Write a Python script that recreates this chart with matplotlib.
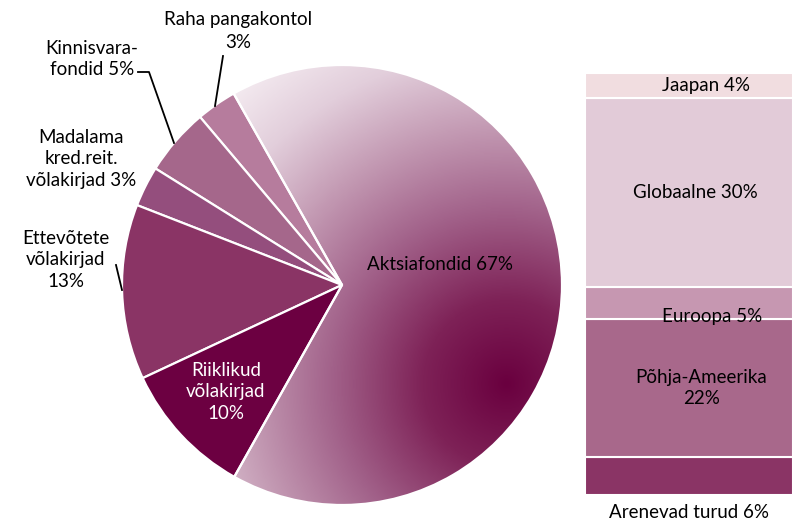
import numpy as np
import matplotlib
matplotlib.use("Agg")
import matplotlib.pyplot as plt
from matplotlib.colors import LinearSegmentedColormap

plt.rcParams['font.family'] = ['Lato', 'DejaVu Sans']

# Pie: asset classes (counter-clockwise from the top-left)
pie_labels = ["Raha pangakontol", "Kinnisvarafondid", "Madalama kred.reit. võlakirjad",
              "Ettevõtete võlakirjad", "Riiklikud võlakirjad", "Aktsiafondid"]
pie_values = [3, 5, 3, 13, 10, 67]
pie_colors = ["#b67c9d", "#a5678b", "#944e7d", "#8a3465", "#6c0041", "none"]

# Stacked bar: equity split by region (bottom to top)
bar_labels = ["Arenevad turud", "Põhja-Ameerika", "Euroopa", "Globaalne", "Jaapan"]
bar_values = [6, 22, 5, 30, 4]
bar_colors = ["#8a3465", "#a8688b", "#c697b1", "#e2cbd8", "#f1dde0"]

W, H = 794, 520
fig = plt.figure(figsize=(W / 100, H / 100), dpi=100)

# pie axes: circle centre (342, 285) px, radius 220 px
cx, cy, r = 342, 285, 220
ax = fig.add_axes([(cx - r) / W, (H - cy - r) / H, 2 * r / W, 2 * r / H])
wedges, _ = ax.pie(pie_values, colors=pie_colors, startangle=119.5, counterclock=True,
                   radius=1, wedgeprops=dict(edgecolor="white", linewidth=1.6))
ax.set_xlim(-1, 1)
ax.set_ylim(-1, 1)
ax.axis("off")

# gradient fill of the equity slice
cmap = LinearSegmentedColormap.from_list("akts", [
    (0.0, "#6a003f"), (0.2, "#7e2257"), (0.42, "#a2628a"),
    (0.62, "#c49bb4"), (0.8, "#e2cedb"), (1.0, "#f8f1f5")])
gx, gy = np.meshgrid(np.linspace(-1, 1, 400), np.linspace(-1, 1, 400))
t = np.clip(np.hypot(gx - 0.75, gy + 0.45) / 1.9, 0, 1)
im = ax.imshow(t, cmap=cmap, extent=(-1, 1, -1, 1), origin="lower", vmin=0, vmax=1,
               interpolation="bilinear", zorder=0)
im.set_clip_path(wedges[-1])
wedges[-1].set_zorder(2)

# overlay axes in pixel coordinates for labels and leader lines
ov = fig.add_axes([0, 0, 1, 1])
ov.set_xlim(0, W)
ov.set_ylim(H, 0)
ov.axis("off")
ov.patch.set_alpha(0)

fs = 13.5
ls = 1.3
ov.text(238, 31, "Raha pangakontol\n3%", ha="center", va="center", fontsize=fs, linespacing=1.4)
ov.plot([223, 215], [56, 106], color="black", lw=1.3)
ov.text(92, 59, "Kinnisvara-\nfondid 5%", ha="center", va="center", fontsize=fs, linespacing=ls)
ov.plot([138, 149, 174], [72, 72, 143], color="black", lw=1.3)
ov.text(81, 159, "Madalama\nkred.reit.\nvõlakirjad 3%", ha="center", va="center", fontsize=fs,
        linespacing=ls)
ov.text(66, 260, "Ettevõtete\nvõlakirjad\n13%", ha="center", va="center", fontsize=fs,
        linespacing=ls)
ov.plot([116, 122], [265, 290], color="black", lw=1.3)
ov.text(226, 392, "Riiklikud\nvõlakirjad\n10%", ha="center", va="center", fontsize=fs,
        color="white", linespacing=ls)
ov.text(440, 265, "Aktsiafondid 67%", ha="center", va="center", fontsize=fs)

# stacked bar axes
bx0, bx1, by0, by1 = 585, 793, 73, 495
bax = fig.add_axes([bx0 / W, (H - by1) / H, (bx1 - bx0) / W, (by1 - by0) / H])
bottoms = np.concatenate([[0], np.cumsum(bar_values)[:-1]])
bax.bar([0] * len(bar_values), bar_values, bottom=bottoms, width=1, color=bar_colors,
        edgecolor="white", linewidth=1.5)
bax.set_xlim(-0.5, 0.5)
bax.set_ylim(0, sum(bar_values))
bax.axis("off")

bax.text(0.08, bottoms[4] + bar_values[4] / 2, f"{bar_labels[4]} {bar_values[4]}%",
         ha="center", va="center", fontsize=fs)
bax.text(0.03, bottoms[3] + bar_values[3] / 2, f"{bar_labels[3]} {bar_values[3]}%",
         ha="center", va="center", fontsize=fs)
bax.text(0.11, bottoms[2] + 0.4, f"{bar_labels[2]} {bar_values[2]}%",
         ha="center", va="center", fontsize=fs)
bax.text(0.06, bottoms[1] + bar_values[1] / 2, f"{bar_labels[1]}\n{bar_values[1]}%",
         ha="center", va="center", fontsize=fs, linespacing=ls)
bax.text(0, -1.4, f"{bar_labels[0]} {bar_values[0]}%", ha="center", va="top", fontsize=fs,
         clip_on=False)

fig.savefig("out.png", dpi=100)
